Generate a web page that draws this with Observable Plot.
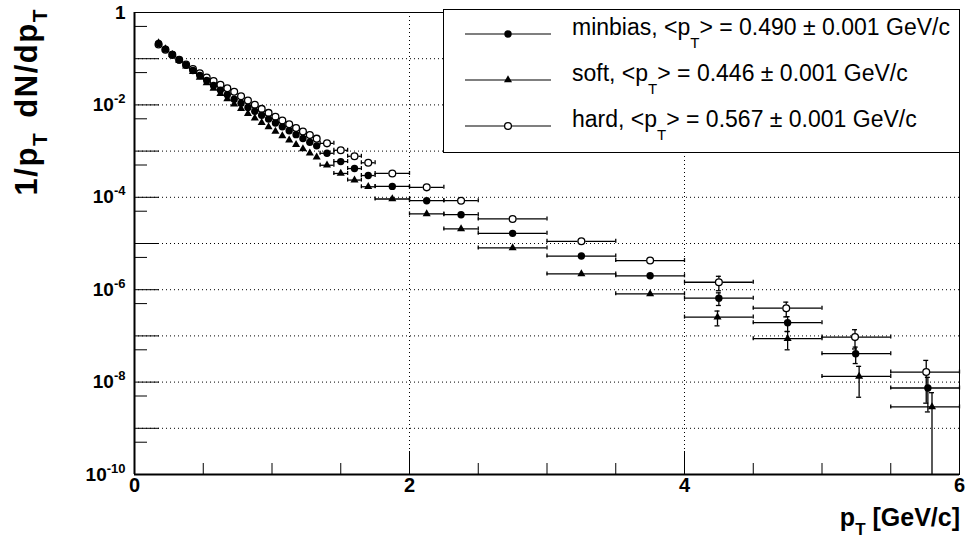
<!DOCTYPE html>
<html><head><meta charset="utf-8">
<script src="https://cdn.jsdelivr.net/npm/d3@7"></script>
<script src="https://cdn.jsdelivr.net/npm/@observablehq/plot@0.6"></script>
<style>body{margin:0;background:#fff} #chart svg{display:block}</style>
</head><body><div id="chart"></div>
<script>
// ---------- data ----------
const binLo = [0.15,0.20,0.25,0.30,0.35,0.40,0.45,0.50,0.55,0.60,0.65,0.70,0.75,0.80,0.85,0.90,0.95,1.00,1.05,1.10,1.15,1.20,1.25,1.30,1.35,1.45,1.55,1.65,1.75,2.00,2.25,2.50,3.00,3.50,4.00,4.50,5.00,5.50];
const binHi = [0.20,0.25,0.30,0.35,0.40,0.45,0.50,0.55,0.60,0.65,0.70,0.75,0.80,0.85,0.90,0.95,1.00,1.05,1.10,1.15,1.20,1.25,1.30,1.35,1.45,1.55,1.65,1.75,2.00,2.25,2.50,3.00,3.50,4.00,4.50,5.00,5.50,6.00];

const ptMinbias = [0.175,0.225,0.275,0.325,0.375,0.425,0.475,0.525,0.575,0.625,0.675,0.725,0.775,0.825,0.875,0.925,0.975,1.025,1.075,1.125,1.175,1.225,1.275,1.325,1.4,1.5,1.6,1.7,1.875,2.125,2.375,2.75,3.25,3.75,4.25,4.75,5.245,5.77];
const ptSoft    = [0.175,0.225,0.275,0.325,0.375,0.425,0.475,0.525,0.575,0.625,0.675,0.725,0.775,0.825,0.875,0.925,0.975,1.025,1.075,1.125,1.175,1.225,1.275,1.325,1.4,1.5,1.6,1.7,1.875,2.125,2.375,2.75,3.25,3.75,4.24,4.75,5.27,5.80];
const ptHard    = [0.175,0.225,0.275,0.325,0.375,0.425,0.475,0.525,0.575,0.625,0.675,0.725,0.775,0.825,0.875,0.925,0.975,1.025,1.075,1.125,1.175,1.225,1.275,1.325,1.4,1.5,1.6,1.7,1.875,2.125,2.375,2.75,3.25,3.75,4.25,4.74,5.24,5.758];

const minbias = [0.213,0.161,0.123,0.0937,0.0720,0.0556,0.0432,0.0337,0.0264,0.0209,0.0166,0.0133,0.0109,0.00883,0.00727,0.00599,0.00493,0.00406,0.00335,0.00276,0.00227,0.00188,0.00156,0.00130,8.97e-4,5.93e-4,4.19e-4,2.96e-4,1.72e-4,8.45e-5,4.2e-5,1.66e-5,5.35e-6,2.0e-6,6.55e-7,1.93e-7,4.12e-8,7.46e-9];
const soft    = [0.2184,0.1636,0.1226,0.0919,0.0692,0.0521,0.0395,0.0299,0.0227,0.0174,0.01341,0.01035,0.00824,0.00649,0.00519,0.00415,0.00332,0.00266,0.00214,0.00172,0.00138,0.00112,9.05e-4,7.35e-4,4.94e-4,3.28e-4,2.36e-4,1.69e-4,9.19e-5,4.36e-5,2.07e-5,8.04e-6,2.20e-6,8.15e-7,2.55e-7,8.70e-8,1.33e-8,2.90e-9];
const hard    = [0.2026,0.1557,0.1208,0.0947,0.0749,0.0599,0.0484,0.0393,0.0330,0.0273,0.0229,0.0192,0.01534,0.01239,0.01005,0.00820,0.00672,0.00553,0.00458,0.00381,0.00317,0.00265,0.00222,0.00186,0.00147,0.00104,7.72e-4,5.59e-4,3.28e-4,1.64e-4,8.45e-5,3.40e-5,1.115e-5,4.27e-6,1.45e-6,3.98e-7,9.42e-8,1.65e-8];

const minbiasErr = [0,0,0,0,0,0,0,0,0,0,0,0,0,0,0,0,0,0,0,0,0,0,0,0,0,0,0,0,0,0,0,0,0,0,2.0e-7,6.8e-8,1.6e-8,5.2e-9];
const softErr    = [0,0,0,0,0,0,0,0,0,0,0,0,0,0,0,0,0,0,0,0,0,0,0,0,0,0,0,0,0,0,0,0,0,0,9.0e-8,3.7e-8,8.6e-9,3.0e-9];
const hardErr    = [0,0,0,0,0,0,0,0,0,0,0,0,0,0,0,0,0,0,0,0,0,0,0,0,0,0,0,0,0,0,0,0,0,0,5.0e-7,1.4e-7,4.2e-8,1.3e-8];

const seriesNames = ["minbias", "soft", "hard"];
const legendLabels = [
  "minbias, <p_{T}> = 0.490 ± 0.001 GeV/c",
  "soft, <p_{T}> = 0.446 ± 0.001 GeV/c",
  "hard, <p_{T}> = 0.567 ± 0.001 GeV/c"
];

const xTickLabels = ["0", "2", "4", "6"];
const xLabelValues = [0, 2, 4, 6];
const xMinorTicks = [0.5, 1, 1.5, 2.5, 3, 3.5, 4.5, 5, 5.5];
const xMajorTicks = [2, 4];
const yLabelValues = [1, 1e-2, 1e-4, 1e-6, 1e-8, 1e-10];
const yTickLabels = ["1", "10^{-2}", "10^{-4}", "10^{-6}", "10^{-8}", "10^{-10}"];
const yMajorTicks = [1e-1, 1e-2, 1e-3, 1e-4, 1e-5, 1e-6, 1e-7, 1e-8, 1e-9];
const yMinorTicks = [0.5, 5e-2, 5e-3, 5e-4, 5e-5, 5e-6, 5e-7, 5e-8, 5e-9, 5e-10];
const yGrid = [1e-1, 1e-2, 1e-3, 1e-4, 1e-5, 1e-6, 1e-7, 1e-8, 1e-9];
const xGrid = [2, 4];
const xTitle = "p_{T} [GeV/c]";
const yTitle = "1/p_{T} dN/dp_{T}";

// ---------- table ----------
const yMin = 1e-10, yMax = 1;
const seriesTable = [
  {name: "minbias", x: ptMinbias, y: minbias, e: minbiasErr},
  {name: "soft", x: ptSoft, y: soft, e: softErr},
  {name: "hard", x: ptHard, y: hard, e: hardErr}
];
const rows = seriesTable.flatMap(s => s.y.map((v, i) => ({
  series: s.name, x: s.x[i], y: v, e: s.e[i], lo: binLo[i], hi: binHi[i]
})));
const wide = rows.filter(d => d.hi - d.lo > 0.06);
const withErr = rows.filter(d => d.e > 0);
const errLow = d => Math.max(d.y - d.e, yMin);
const errHigh = d => d.y + d.e;
const bySeries = n => rows.filter(d => d.series === n);

// ---------- layout ----------
const W = 970, H = 542;
const mL = 134, mR = 11, mT = 12, mB = 68;
const innerW = W - mL - mR, innerH = H - mT - mB;
const FONT = "'Liberation Sans', Arial, Helvetica, sans-serif";
const dotted = {stroke: "#000", strokeWidth: 1, strokeDasharray: "1,3"};

const chart = Plot.plot({
  width: W, height: H,
  marginLeft: mL, marginRight: mR, marginTop: mT, marginBottom: mB,
  style: {fontFamily: FONT, background: "white", overflow: "visible"},
  x: {type: "linear", domain: [0, 6], axis: null},
  y: {type: "log", domain: [yMin, yMax], axis: null},
  marks: [
    Plot.ruleY(yGrid, dotted),
    Plot.ruleX(xGrid, dotted),
    // ticks (inside frame)
    Plot.tickX(xMajorTicks, {x: d => d, insetTop: innerH - 23, stroke: "#000"}),
    Plot.tickX(xMinorTicks, {x: d => d, insetTop: innerH - 11, stroke: "#000"}),
    Plot.tickY(yMajorTicks, {y: d => d, insetRight: innerW - 25, stroke: "#000"}),
    Plot.tickY(yMinorTicks, {y: d => d, insetRight: innerW - 13, stroke: "#000"}),
    // horizontal error bars
    Plot.ruleY(wide, {y: "y", x1: "lo", x2: "hi", stroke: "#000", strokeWidth: 1.3}),
    Plot.ruleX(wide, {x: "lo", y1: "y", y2: "y", insetTop: -2, insetBottom: -2, stroke: "#000", strokeWidth: 1.3}),
    Plot.ruleX(wide, {x: "hi", y1: "y", y2: "y", insetTop: -2, insetBottom: -2, stroke: "#000", strokeWidth: 1.3}),
    // vertical error bars
    Plot.ruleX(withErr, {x: "x", y1: errLow, y2: errHigh, stroke: "#000", strokeWidth: 1.3}),
    Plot.ruleY(withErr, {y: errHigh, x1: "x", x2: "x", insetLeft: -2.5, insetRight: -2.5, stroke: "#000", strokeWidth: 1.3}),
    Plot.ruleY(withErr.filter(d => d.y - d.e > yMin), {y: errLow, x1: "x", x2: "x", insetLeft: -2.5, insetRight: -2.5, stroke: "#000", strokeWidth: 1.3}),
    // white disks behind hollow markers (hide error bar inside)
    Plot.dot(bySeries("hard"), {x: "x", y: "y", r: 3.8, fill: "white", stroke: null}),
    // markers
    Plot.dot(bySeries("minbias"), {x: "x", y: "y", r: 3.7, fill: "#000", stroke: null}),
    Plot.dot(bySeries("soft"), {x: "x", y: "y", r: 3.0, symbol: "triangle", fill: "#000", stroke: null}),
    Plot.dot(bySeries("hard"), {x: "x", y: "y", r: 3.4, fill: "none", stroke: "#000", strokeWidth: 1.3}),
    // frame & axis lines
    Plot.frame({stroke: "#000", strokeWidth: 1}),
    Plot.ruleY([yMin], {stroke: "#000", strokeWidth: 2}),
    Plot.ruleX([0], {stroke: "#000", strokeWidth: 2}),
    // tick labels
    Plot.text(xTickLabels, {x: (d, i) => xLabelValues[i], text: d => d, frameAnchor: "bottom", dy: 17,
      fontSize: 20, fontWeight: "bold", fill: "#000"}),
    Plot.text(yTickLabels, {y: (d, i) => yLabelValues[i], text: d => d, frameAnchor: "left", dx: -9,
      textAnchor: "end", fontSize: 19, fontWeight: "bold", fill: "#000"})
  ]
});

document.getElementById("chart").appendChild(chart);

// ---------- rich text (sub/superscripts) ----------
function rich(sel, str, subSize, subShift, supSize, supShift) {
  sel.text(null);
  const parts = str.split(/(_\{[^}]*\}|\^\{[^}]*\})/).filter(s => s.length);
  let cur = 0;
  for (const p of parts) {
    let target = 0, size = null, content = p;
    if (p.startsWith("_{")) { target = subShift; size = subSize; content = p.slice(2, -1); }
    else if (p.startsWith("^{")) { target = -supShift; size = supSize; content = p.slice(2, -1); }
    const t = sel.append("tspan").attr("dy", target - cur).text(content);
    if (size) t.attr("font-size", size);
    cur = target;
  }
}

const svgNode = chart.tagName.toLowerCase() === "svg" ? chart : chart.querySelector("svg");
const svg = d3.select(svgNode);
svg.selectAll("text").each(function () {
  const s = this.textContent;
  if (s.indexOf("^{") >= 0) rich(d3.select(this), s, 13, 6, 13, 8);
});

// axis titles
const xt = svg.append("text").attr("x", W - 10).attr("y", 526)
  .attr("text-anchor", "end").attr("font-family", FONT).attr("font-weight", "bold")
  .attr("font-size", 25).attr("fill", "#000");
rich(xt, xTitle, 17, 9, 17, 9);

const yt = svg.append("text").attr("transform", "translate(37,8) rotate(-90)")
  .attr("text-anchor", "end").attr("font-family", FONT).attr("font-weight", "bold")
  .attr("font-size", 31).attr("word-spacing", 4).attr("letter-spacing", 1.5).attr("fill", "#000");
rich(yt, yTitle, 21, 10, 21, 10);

// legend
const lg = svg.append("g").attr("font-family", FONT);
lg.append("rect").attr("x", 443.5).attr("y", 9.5).attr("width", 516).attr("height", 143)
  .attr("fill", "white").attr("stroke", "#000").attr("stroke-width", 1);
const rowY = [34, 80, 126];
seriesNames.forEach((name, i) => {
  const y = rowY[i];
  lg.append("line").attr("x1", 465).attr("x2", 551).attr("y1", y).attr("y2", y)
    .attr("stroke", "#000").attr("stroke-width", 1.2);
  if (name === "minbias") {
    lg.append("circle").attr("cx", 508).attr("cy", y).attr("r", 3.7).attr("fill", "#000");
  } else if (name === "soft") {
    lg.append("path").attr("transform", `translate(508,${y})`)
      .attr("d", d3.symbol(d3.symbolTriangle, Math.PI * 3.0 * 3.0)()).attr("fill", "#000");
  } else {
    lg.append("circle").attr("cx", 508).attr("cy", y).attr("r", 3.4).attr("fill", "white")
      .attr("stroke", "#000").attr("stroke-width", 1.3);
  }
  const t = lg.append("text").attr("x", 572).attr("y", y + 1).attr("text-anchor", "start")
    .attr("font-size", 23).attr("fill", "#000");
  rich(t, legendLabels[i], 15, 13, 15, 8);
});
</script>
</body></html>
